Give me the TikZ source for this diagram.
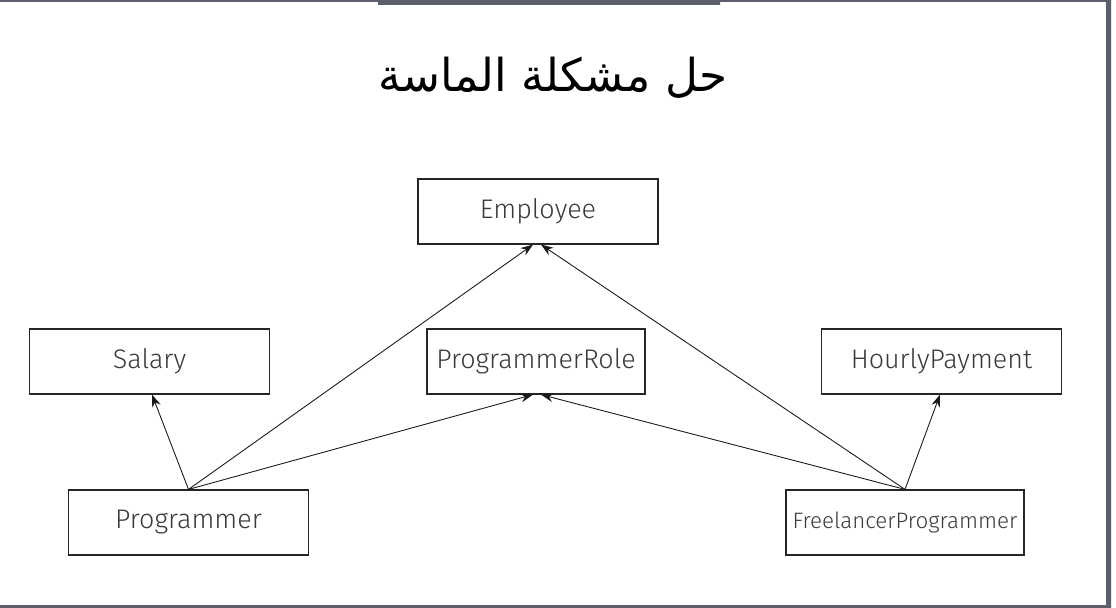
\documentclass[tikz,border=0pt]{standalone}
\usepackage{fontspec}
\setmainfont[UprightFont={* Light}]{Fira Sans}
\newfontfamily\arabicfont[Script=Arabic]{DejaVu Sans}
\TeXXeTstate=1
\usetikzlibrary{arrows.meta}
\definecolor{framegray}{HTML}{5C5F6B}
\definecolor{textgray}{HTML}{3A3A3A}

\begin{document}
\begin{tikzpicture}[x=0.02cm,y=-0.02cm,
	classbox/.style={draw=black!85,line width=0.7pt,minimum width=4.8cm,minimum height=1.3cm,
		inner sep=0pt,text=textgray,font=\fontsize{15.3}{17}\selectfont},
	inherit/.style={draw=black!90,line width=0.5pt,-{Stealth[length=7pt,width=5pt]}}]
\useasboundingbox (0,0) rectangle (1116,608);
\fill[white] (0,0) rectangle (1116,608);
% frame of the slide
\fill[framegray] (0,0) rectangle (1111,2)
	(378,0) rectangle (720,5)
	(1106,0) rectangle (1111,608)
	(0,605) rectangle (1111,608);
\node[text=black,font=\fontsize{25.8}{30}\selectfont] (title) at (553,78) {\arabicfont\beginR حل مشكلة الماسة\endR};
\node[classbox] (employee) at (538,211.5) {Employee};
\node[classbox] (salary) at (149.5,361.5) {Salary};
\node[classbox,minimum width=4.36cm] (role) at (536,361.5) {ProgrammerRole};
\node[classbox] (hourly) at (941.5,361.5) {HourlyPayment};
\node[classbox] (programmer) at (188.5,522.5) {Programmer};
\node[classbox,minimum width=4.76cm,font=\fontsize{12.7}{14}\selectfont] (freelancer) at (905,522.5) {FreelancerProgrammer};
\draw[inherit] (programmer.north) -- ([xshift=0.05cm]salary.south);
\draw[inherit] (programmer.north) -- ([xshift=-0.1cm]employee.south);
\draw[inherit] (programmer.north) -- ([xshift=-0.06cm]role.south);
\draw[inherit] (freelancer.north) -- ([xshift=0.06cm]employee.south);
\draw[inherit] (freelancer.north) -- ([xshift=0.1cm]role.south);
\draw[inherit] (freelancer.north) -- ([xshift=-0.03cm]hourly.south);
\end{tikzpicture}
\end{document}
